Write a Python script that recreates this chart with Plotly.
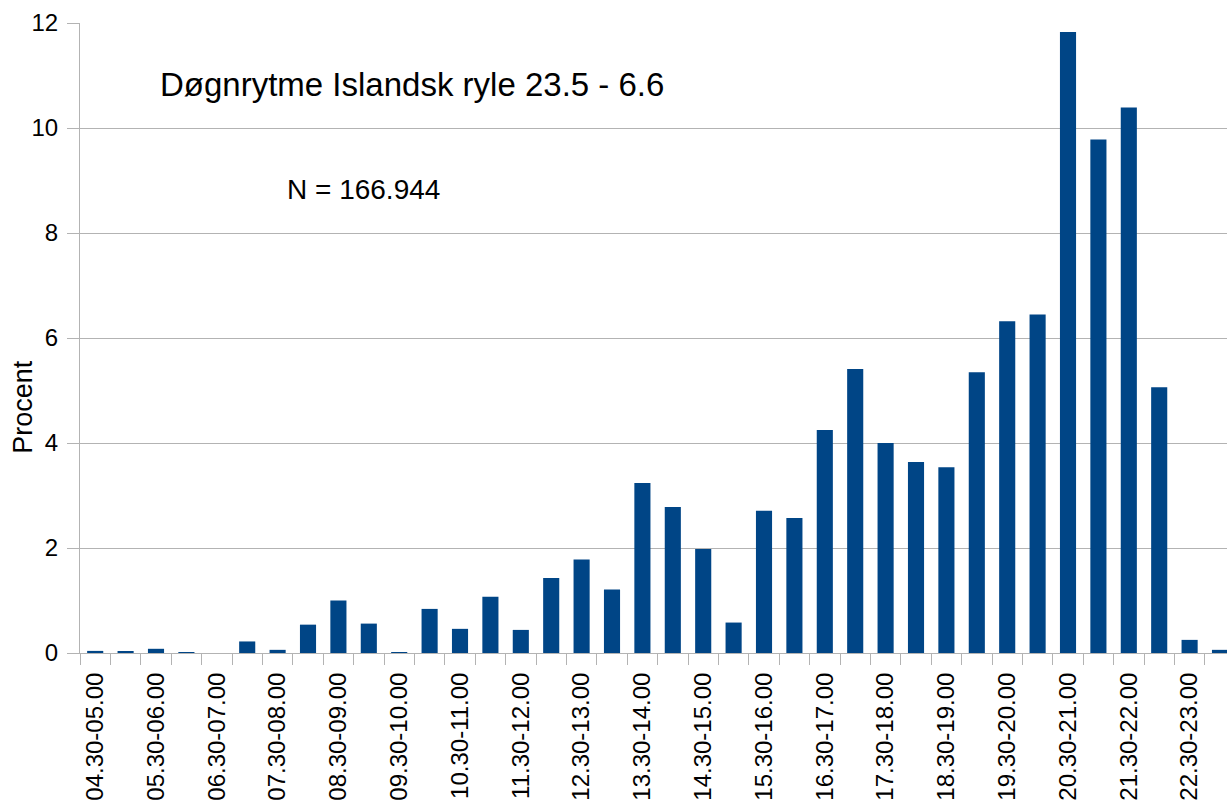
import plotly.graph_objects as go

categories = [
    "04.30-05.00", "05.00-05.30", "05.30-06.00", "06.00-06.30", "06.30-07.00",
    "07.00-07.30", "07.30-08.00", "08.00-08.30", "08.30-09.00", "09.00-09.30",
    "09.30-10.00", "10.00-10.30", "10.30-11.00", "11.00-11.30", "11.30-12.00",
    "12.00-12.30", "12.30-13.00", "13.00-13.30", "13.30-14.00", "14.00-14.30",
    "14.30-15.00", "15.00-15.30", "15.30-16.00", "16.00-16.30", "16.30-17.00",
    "17.00-17.30", "17.30-18.00", "18.00-18.30", "18.30-19.00", "19.00-19.30",
    "19.30-20.00", "20.00-20.30", "20.30-21.00", "21.00-21.30", "21.30-22.00",
    "22.00-22.30", "22.30-23.00", "23.00-23.30",
]

procent = [
    0.04, 0.025, 0.08, 0.01, 0.0,
    0.22, 0.06, 0.54, 1.00, 0.56,
    0.01, 0.84, 0.46, 1.07, 0.44,
    1.43, 1.78, 1.21, 3.24, 2.78,
    1.98, 0.58, 2.71, 2.57, 4.25,
    5.41, 4.00, 3.64, 3.54, 5.35,
    6.32, 6.45, 11.83, 9.78, 10.39,
    5.06, 0.25, 0.06,
]

tick_labels = [c if i % 2 == 0 else "" for i, c in enumerate(categories)]
y_ticks = [0, 2, 4, 6, 8, 10, 12]

title_text = "Døgnrytme Islandsk ryle 23.5 - 6.6"
n_text = "N = 166.944"
y_title = "Procent"

FONT = "Liberation Sans, Arial, sans-serif"
GRID = "#b3b3b3"

fig = go.Figure()
fig.add_trace(go.Bar(
    x=categories,
    y=procent,
    marker=dict(color="#004586", line=dict(width=0)),
    hoverinfo="x+y",
))

fig.update_layout(
    width=1227,
    height=809,
    margin=dict(l=80, r=0, t=23, b=156, pad=0),
    paper_bgcolor="white",
    plot_bgcolor="white",
    bargap=0.47,
    showlegend=False,
    font=dict(family=FONT, color="black"),
    xaxis=dict(
        type="category",
        categoryorder="array",
        categoryarray=categories,
        range=[-0.5, 37.23],
        tickmode="array",
        tickvals=categories,
        ticktext=tick_labels,
        tickson="boundaries",
        ticks="outside",
        ticklen=11,
        tickwidth=1,
        tickcolor=GRID,
        tickangle=-90,
        tickfont=dict(size=24, family=FONT, color="black"),
        ticklabelstandoff=9,
        showline=True,
        linecolor=GRID,
        linewidth=1,
        showgrid=False,
        zeroline=False,
    ),
    yaxis=dict(
        range=[0, 12],
        tickmode="array",
        tickvals=y_ticks,
        ticktext=[str(v) for v in y_ticks],
        ticks="outside",
        ticklen=12,
        tickwidth=1,
        tickcolor=GRID,
        tickfont=dict(size=24, family=FONT, color="black"),
        ticklabelstandoff=4,
        showline=True,
        linecolor=GRID,
        linewidth=1,
        showgrid=True,
        gridcolor=GRID,
        gridwidth=1,
        zeroline=False,
    ),
)

fig.add_annotation(
    text=title_text, xref="paper", yref="y",
    x=0.068, y=10.82, xanchor="left", yanchor="middle",
    showarrow=False, font=dict(size=33, family=FONT, color="black"),
)
fig.add_annotation(
    text=n_text, xref="paper", yref="y",
    x=0.179, y=8.82, xanchor="left", yanchor="middle",
    showarrow=False, font=dict(size=28, family=FONT, color="black"),
)
fig.add_annotation(
    text=y_title, xref="paper", yref="y",
    x=-0.0497, y=4.69, xanchor="center", yanchor="middle",
    textangle=-90,
    showarrow=False, font=dict(size=27, family=FONT, color="black"),
)

fig.write_html(
    "out.html",
    config={"displayModeBar": False},
    post_script="document.body.style.margin='0';document.body.style.overflow='hidden';",
)
